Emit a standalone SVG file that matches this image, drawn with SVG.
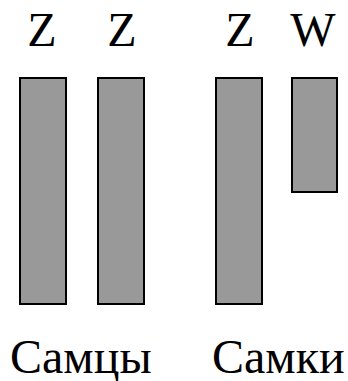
<svg xmlns="http://www.w3.org/2000/svg" width="348" height="381" viewBox="0 0 348 381">
<rect width="348" height="381" fill="#fff"/>
<g id="male">
<g id="m-z1"><text x="27.3" y="46" font-family="Liberation Serif" font-size="48">Z</text><rect x="20" y="78" width="46" height="226" fill="#999999" stroke="#000" stroke-width="2"/></g>
<g id="m-z2"><text x="107.3" y="46" font-family="Liberation Serif" font-size="48">Z</text><rect x="98" y="78" width="46" height="226" fill="#999999" stroke="#000" stroke-width="2"/></g>
<text x="10" y="373" font-family="Liberation Serif" font-size="48">Самцы</text>
</g>
<g id="female">
<g id="f-z"><text x="225.3" y="46" font-family="Liberation Serif" font-size="48">Z</text><rect x="216" y="78" width="46" height="226" fill="#999999" stroke="#000" stroke-width="2"/></g>
<g id="f-w"><text x="290.3" y="46" font-family="Liberation Serif" font-size="48">W</text><rect x="292" y="78" width="45" height="114" fill="#999999" stroke="#000" stroke-width="2"/></g>
<text x="212" y="373" font-family="Liberation Serif" font-size="48">Самки</text>
</g>
<g id="connectors"/>
</svg>
